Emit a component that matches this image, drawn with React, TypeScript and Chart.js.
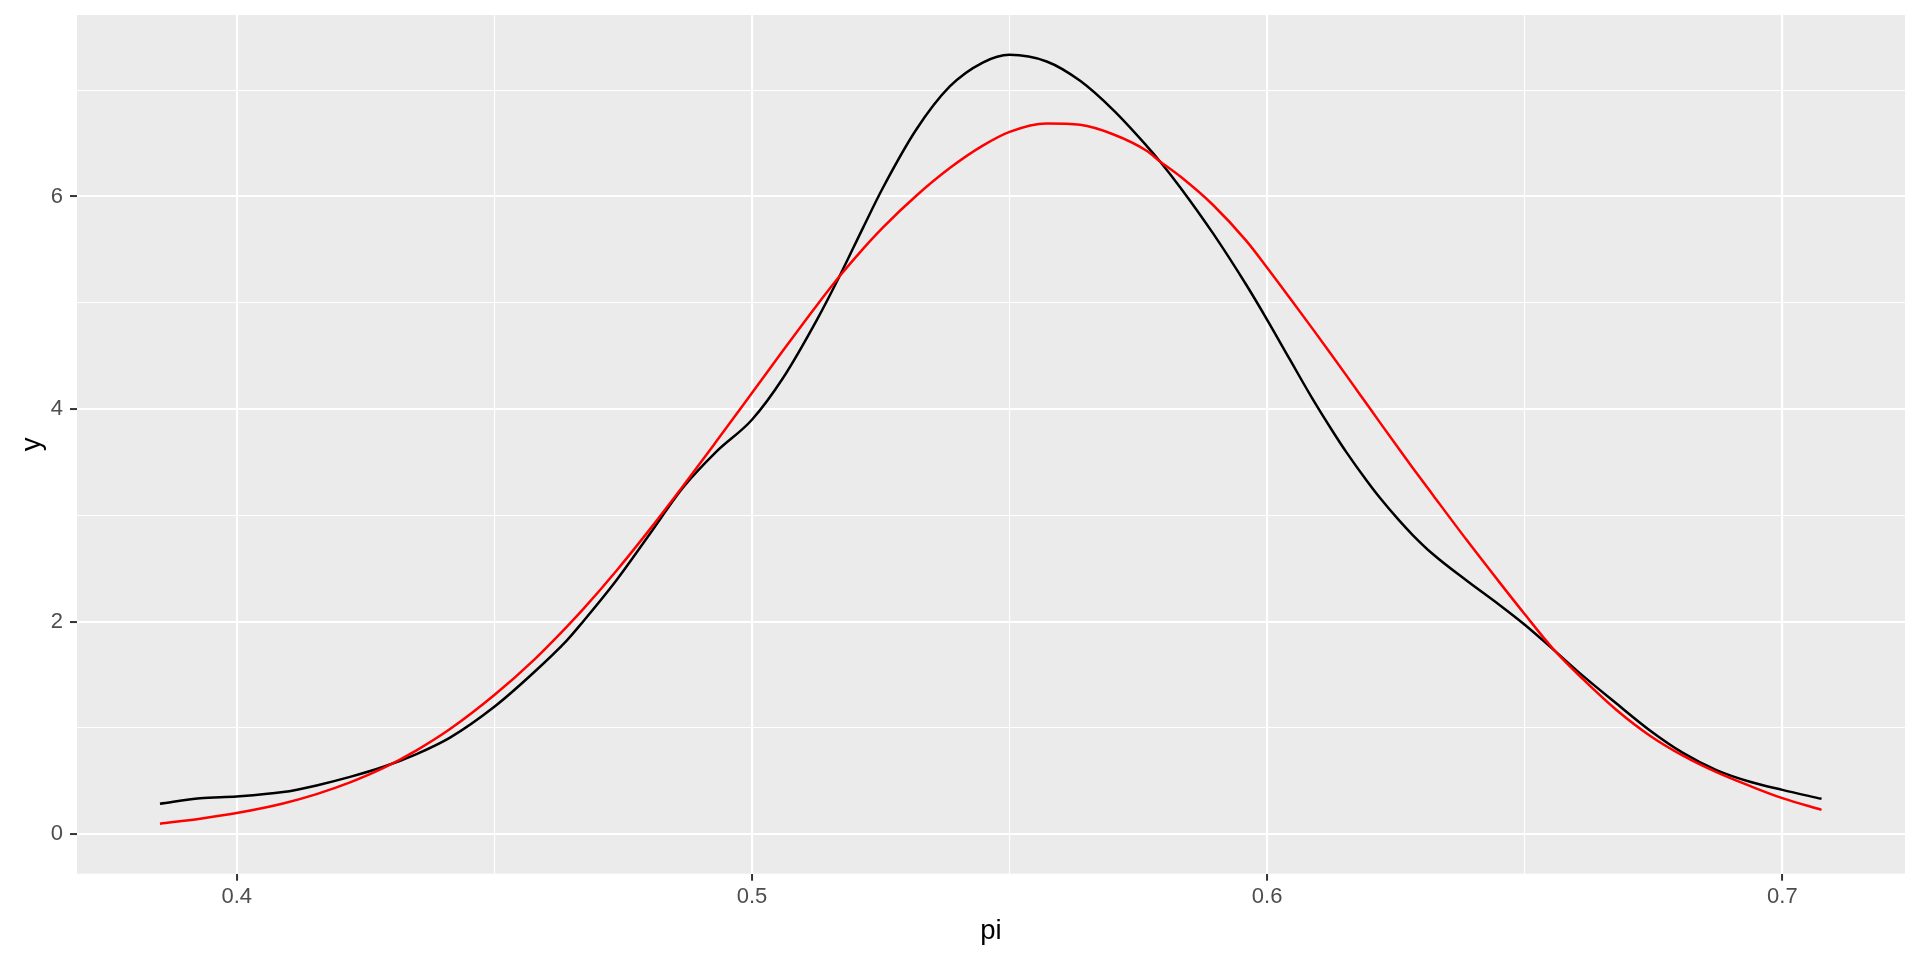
import React, { useEffect, useRef } from "react";
import { Chart, registerables } from "chart.js";

Chart.register(...registerables);

// ---- data ----
const piValues = [
  0.3851, 0.3929, 0.4, 0.409, 0.4155, 0.422, 0.4285, 0.4349, 0.4414, 0.45,
  0.4576, 0.464, 0.4672, 0.4737, 0.4801, 0.4866, 0.4931, 0.5, 0.506, 0.5125,
  0.517, 0.5216, 0.5254, 0.5319, 0.5384, 0.5448, 0.55, 0.5572, 0.5637, 0.5702,
  0.5766, 0.5792, 0.5831, 0.5895, 0.596, 0.6, 0.6044, 0.6089, 0.6128, 0.6154,
  0.6193, 0.6218, 0.6257, 0.6283, 0.6322, 0.6387, 0.6451, 0.65, 0.6555, 0.6613,
  0.6678, 0.6743, 0.6807, 0.6872, 0.6937, 0.7, 0.7076,
];

const sampleDensity = [
  0.288, 0.34, 0.356, 0.397, 0.46, 0.54, 0.635, 0.755, 0.91, 1.2,
  1.52, 1.82, 2.0, 2.39, 2.82, 3.26, 3.6, 3.9, 4.29, 4.83,
  5.25, 5.71, 6.08, 6.63, 7.035, 7.26, 7.333, 7.27, 7.088, 6.81,
  6.477, 6.33, 6.088, 5.653, 5.165, 4.84, 4.467, 4.089, 3.785, 3.593,
  3.328, 3.17, 2.948, 2.813, 2.634, 2.387, 2.157, 1.971, 1.74, 1.49,
  1.23, 0.977, 0.766, 0.604, 0.494, 0.418, 0.334,
];

const fittedDensity = [
  0.1, 0.147, 0.2, 0.29, 0.378, 0.488, 0.624, 0.79, 0.99, 1.31,
  1.637, 1.95, 2.116, 2.48, 2.864, 3.274, 3.697, 4.152, 4.548, 4.97,
  5.249, 5.51, 5.708, 6.007, 6.267, 6.478, 6.608, 6.687, 6.674, 6.583,
  6.43, 6.33, 6.19, 5.92, 5.58, 5.33, 5.045, 4.75, 4.49, 4.315,
  4.05, 3.88, 3.617, 3.444, 3.19, 2.77, 2.37, 2.07, 1.745, 1.46,
  1.17, 0.928, 0.74, 0.585, 0.455, 0.34, 0.23,
];

const xMajorTicks = [0.4, 0.5, 0.6, 0.7];
const xMajorLabels = ["0.4", "0.5", "0.6", "0.7"];
const xMinorTicks = [0.45, 0.55, 0.65];
const yMajorTicks = [0, 2, 4, 6];
const yMajorLabels = ["0", "2", "4", "6"];
const yMinorTicks = [1, 3, 5, 7];
const xAxisTitle = "pi";
const yAxisTitle = "y";
const xLimits = [0.369, 0.7238];
const yLimits = [-0.3706, 7.7074];

const FONT = "'Liberation Sans', Arial, Helvetica, sans-serif";

const panelBackground = {
  id: "panelBackground",
  beforeDraw(chart: any) {
    const { ctx, chartArea } = chart;
    if (!chartArea) return;
    ctx.save();
    ctx.fillStyle = "#EBEBEB";
    ctx.fillRect(
      chartArea.left,
      chartArea.top,
      chartArea.right - chartArea.left,
      chartArea.bottom - chartArea.top
    );
    ctx.restore();
  },
};

export default function App() {
  const canvasRef = useRef<HTMLCanvasElement | null>(null);

  useEffect(() => {
    const canvas = canvasRef.current;
    if (!canvas) return;

    const blackPts = piValues.map((x, i) => ({ x, y: sampleDensity[i] }));
    const redPts = piValues.map((x, i) => ({ x, y: fittedDensity[i] }));

    const xIsMajor = (v: number) => xMajorTicks.indexOf(v) >= 0;
    const yIsMajor = (v: number) => yMajorTicks.indexOf(v) >= 0;

    const chart = new Chart(canvas, {
      type: "line",
      data: {
        datasets: [
          {
            label: "fit",
            data: redPts,
            borderColor: "#FF0000",
            borderWidth: 2.5,
            pointRadius: 0,
            fill: false,
            cubicInterpolationMode: "monotone",
          },
          {
            label: "density",
            data: blackPts,
            borderColor: "#000000",
            borderWidth: 2.5,
            pointRadius: 0,
            fill: false,
            cubicInterpolationMode: "monotone",
          },
        ],
      },
      options: {
        animation: false,
        responsive: false,
        maintainAspectRatio: false,
        layout: { padding: { left: 0, right: 15, top: 15, bottom: 0 } },
        plugins: {
          legend: { display: false },
          tooltip: { enabled: false },
        },
        scales: {
          x: {
            type: "linear",
            min: xLimits[0],
            max: xLimits[1],
            afterBuildTicks: (scale: any) => {
              scale.ticks = [...xMajorTicks, ...xMinorTicks]
                .sort((a, b) => a - b)
                .map((v) => ({ value: v }));
            },
            afterFit: (scale: any) => {
              scale.height = 86.3;
              scale.paddingLeft = 0;
              scale.paddingRight = 0;
              scale.paddingTop = 0;
              scale.paddingBottom = 0;
            },
            border: { display: false },
            grid: {
              color: "#FFFFFF",
              lineWidth: (c: any) => (c.tick && xIsMajor(c.tick.value) ? 2.1 : 1.1),
              drawTicks: true,
              tickLength: 7,
              tickWidth: 2,
              tickColor: (c: any) =>
                c.tick && xIsMajor(c.tick.value) ? "#333333" : "rgba(0,0,0,0)",
            },
            ticks: {
              autoSkip: false,
              maxRotation: 0,
              padding: 3,
              color: "#4D4D4D",
              font: { family: FONT, size: 22 },
              callback: (v: any) => {
                const i = xMajorTicks.indexOf(v);
                return i >= 0 ? xMajorLabels[i] : "";
              },
            },
            title: {
              display: true,
              text: xAxisTitle,
              color: "#000000",
              font: { family: FONT, size: 27.5 },
              padding: { top: 0, bottom: 12 },
            },
          },
          y: {
            type: "linear",
            min: yLimits[0],
            max: yLimits[1],
            afterBuildTicks: (scale: any) => {
              scale.ticks = [...yMajorTicks, ...yMinorTicks]
                .sort((a, b) => a - b)
                .map((v) => ({ value: v }));
            },
            afterFit: (scale: any) => {
              scale.width = 77;
              scale.paddingLeft = 0;
              scale.paddingRight = 0;
              scale.paddingTop = 0;
              scale.paddingBottom = 0;
            },
            border: { display: false },
            grid: {
              color: "#FFFFFF",
              lineWidth: (c: any) => (c.tick && yIsMajor(c.tick.value) ? 2.1 : 1.1),
              drawTicks: true,
              tickLength: 7,
              tickWidth: 2,
              tickColor: (c: any) =>
                c.tick && yIsMajor(c.tick.value) ? "#333333" : "rgba(0,0,0,0)",
            },
            ticks: {
              autoSkip: false,
              padding: 7,
              color: "#4D4D4D",
              font: { family: FONT, size: 22 },
              callback: (v: any) => {
                const i = yMajorTicks.indexOf(v);
                return i >= 0 ? yMajorLabels[i] : "";
              },
            },
            title: {
              display: true,
              text: yAxisTitle,
              color: "#000000",
              font: { family: FONT, size: 27.5 },
              padding: { top: 16, bottom: 0 },
            },
          },
        },
      },
      plugins: [panelBackground],
    } as any);

    return () => {
      chart.destroy();
    };
  }, []);

  return (
    <div
      style={{
        position: "absolute",
        left: 0,
        top: 0,
        width: 1920,
        height: 960,
        background: "#FFFFFF",
      }}
    >
      <canvas
        ref={canvasRef}
        width={1920}
        height={960}
        style={{ display: "block", width: 1920, height: 960 }}
      />
    </div>
  );
}
